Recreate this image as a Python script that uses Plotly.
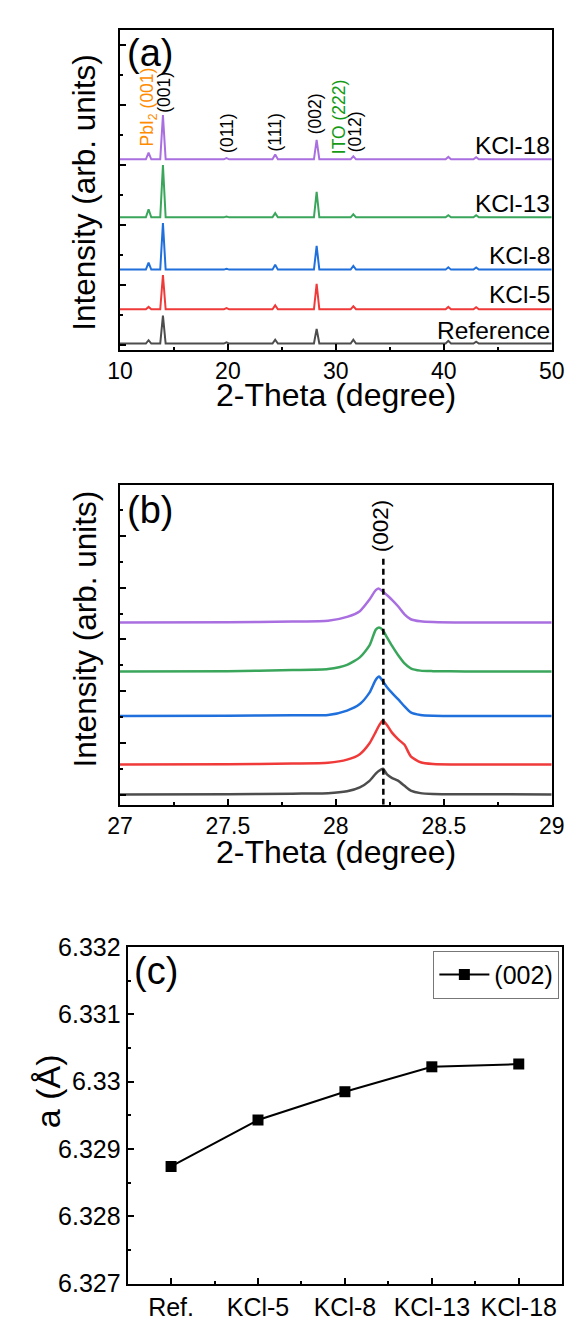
import plotly.graph_objects as go

W, H = 580, 1329
FONT = "Arial, 'Liberation Sans', sans-serif"

# ---------------- (a) XRD patterns, 10-50 degrees ----------------
samples = ["Reference", "KCl-5", "KCl-8", "KCl-13", "KCl-18"]
colors = ["#4d4d4d", "#f03a3a", "#1f6fdc", "#3aa65c", "#a96fe0"]

# peak positions (2-theta) and peak heights above each baseline
peak_pos = [12.65, 13.98, 19.87, 24.38, 28.22, 31.62, 34.8, 40.42, 43.0]
peaks_ref = [0.11, 0.93, 0.04, 0.13, 0.49, 0.13, 0.02, 0.09, 0.06]
peaks_kcl5 = [0.08, 1.14, 0.04, 0.13, 0.85, 0.10, 0.02, 0.08, 0.07]
peaks_kcl8 = [0.23, 1.55, 0.03, 0.16, 0.79, 0.12, 0.02, 0.08, 0.07]
peaks_kcl13 = [0.27, 1.74, 0.03, 0.14, 0.85, 0.10, 0.02, 0.07, 0.07]
peaks_kcl18 = [0.22, 1.47, 0.04, 0.16, 0.65, 0.10, 0.02, 0.08, 0.07]
offsets_a = [0.06, 1.20, 2.52, 4.26, 6.19]
half_base = 0.25

# ---------------- (b) (002) region, 27-29 degrees ----------------
theta_b = [27.0, 27.5, 27.8, 27.964, 28.052, 28.111, 28.156, 28.185, 28.200,
           28.218, 28.237, 28.259, 28.288, 28.318, 28.347, 28.392, 28.45, 28.6, 29.0]
zoom_ref = [0.03, 0.04, 0.06, 0.075, 0.15, 0.30, 0.55, 0.83, 0.94,
            1.02, 0.80, 0.67, 0.56, 0.36, 0.18, 0.08, 0.05, 0.04, 0.03]
zoom_kcl5 = [1.18, 1.19, 1.22, 1.25, 1.37, 1.58, 2.00, 2.44, 2.68,
             2.88, 2.70, 2.42, 2.16, 1.94, 1.50, 1.27, 1.20, 1.18, 1.18]
zoom_kcl8 = [3.05, 3.06, 3.08, 3.09, 3.26, 3.51, 3.95, 4.45, 4.57,
             4.39, 4.16, 3.95, 3.70, 3.42, 3.19, 3.09, 3.06, 3.05, 3.05]
zoom_kcl13 = [4.77, 4.78, 4.82, 4.86, 5.02, 5.31, 5.77, 6.38, 6.46,
              6.35, 6.08, 5.77, 5.40, 5.08, 4.89, 4.80, 4.78, 4.77, 4.77]
zoom_kcl18 = [6.65, 6.66, 6.69, 6.72, 6.87, 7.09, 7.54, 7.90, 7.96,
              7.85, 7.71, 7.54, 7.28, 6.97, 6.78, 6.70, 6.67, 6.65, 6.65]
ref_002 = 28.22

# ---------------- (c) lattice parameter ----------------
categories = ["Ref.", "KCl-5", "KCl-8", "KCl-13", "KCl-18"]
lattice_a = [6.32874, 6.32943, 6.32985, 6.33022, 6.33026]


def px(x):
    return x / W


def py(y):
    return 1 - y / H


fig = go.Figure()

# (a) stacked full patterns
for name, col, pk, off in zip(samples, colors,
                              [peaks_ref, peaks_kcl5, peaks_kcl8, peaks_kcl13, peaks_kcl18],
                              offsets_a):
    xs, ys = [10.0], [off]
    for p, h in zip(peak_pos, pk):
        xs += [p - half_base, p, p + half_base]
        ys += [off, off + h, off]
    xs.append(50.0)
    ys.append(off)
    fig.add_trace(go.Scatter(x=xs, y=ys, mode="lines", line=dict(color=col, width=2),
                             xaxis="x", yaxis="y", showlegend=False, name=name))

# (b) zoom on (002)
for name, col, vals in zip(samples, colors,
                           [zoom_ref, zoom_kcl5, zoom_kcl8, zoom_kcl13, zoom_kcl18]):
    fig.add_trace(go.Scatter(x=theta_b, y=vals, mode="lines",
                             line=dict(color=col, width=2.5, shape="spline", smoothing=0.6),
                             xaxis="x2", yaxis="y2", showlegend=False, name=name))

# (c) lattice constant
fig.add_trace(go.Scatter(x=list(range(len(categories))), y=lattice_a, mode="lines+markers",
                         line=dict(color="black", width=2),
                         marker=dict(symbol="square", size=11, color="black"),
                         xaxis="x3", yaxis="y3", name="(002)", showlegend=True))

tick_common = dict(ticks="inside", ticklen=6, tickwidth=1.5, tickcolor="black",
                   showline=True, linewidth=2, linecolor="black", mirror=True,
                   showgrid=False, zeroline=False,
                   tickfont=dict(family=FONT, size=23, color="black"))
minor_common = dict(ticks="inside", ticklen=3, tickwidth=1.5, tickcolor="black", showgrid=False)
big_ticks = {**tick_common, "tickfont": dict(family=FONT, size=25, color="black")}

fig.update_layout(
    width=W, height=H, margin=dict(l=0, r=0, t=0, b=0),
    paper_bgcolor="white", plot_bgcolor="white",
    font=dict(family=FONT, color="black"),
    xaxis=dict(domain=[px(112), px(564)], anchor="y", range=[10, 50], tick0=10, dtick=10,
               minor=dict(dtick=5, tick0=10, **minor_common), **tick_common),
    yaxis=dict(domain=[py(343), py(16)], anchor="x", range=[-0.147, 10.505], tick0=0, dtick=2,
               showticklabels=False, minor=dict(dtick=1, tick0=0, **minor_common), **tick_common),
    xaxis2=dict(domain=[px(112), px(564)], anchor="y2", range=[27, 29], tick0=27, dtick=0.5,
                minor=dict(dtick=0.25, tick0=27, **minor_common), **tick_common),
    yaxis2=dict(domain=[py(807.7), py(480.7)], anchor="x2", range=[-0.366, 11.97], tick0=0, dtick=2,
                showticklabels=False, minor=dict(dtick=1, tick0=0, **minor_common), **tick_common),
    xaxis3=dict(domain=[px(120), px(575)], anchor="y3", range=[-0.5, 4.5],
                tickmode="array", tickvals=list(range(len(categories))), ticktext=categories,
                minor=dict(tick0=0.5, dtick=1, **minor_common), **big_ticks),
    yaxis3=dict(domain=[py(1297), py(953)], anchor="x3", range=[6.327, 6.332], tick0=6.327, dtick=0.001,
                minor=dict(tick0=6.327, dtick=0.0005, **minor_common), **big_ticks),
    legend=dict(x=px(572), y=py(957), xanchor="right", yanchor="top",
                bgcolor="white", bordercolor="#777", borderwidth=1,
                font=dict(family=FONT, size=25, color="black"), itemwidth=50),
)

ann = []


def text(x, y, s, size, color="black", angle=0, xanchor="center", xref="paper", yref="paper"):
    ann.append(dict(x=x, y=y, xref=xref, yref=yref, text=s, showarrow=False, textangle=angle,
                    xanchor=xanchor, yanchor="middle", borderpad=0,
                    font=dict(family=FONT, size=size, color=color)))


# panel tags
text(px(143), py(40), "(a)", 38)
text(px(143), py(507), "(b)", 38)
text(px(150), py(978), "(c)", 38)

# axis titles
text(px(338), py(389), "2-Theta (degree)", 32)
text(px(75), py(182), "Intensity (arb. units)", 31.5, angle=-90)
text(px(338), py(856), "2-Theta (degree)", 32)
text(px(75), py(628), "Intensity (arb. units)", 31.5, angle=-90)
text(px(36), py(1100), "a (Å)", 34, angle=-90)

# sample names on (a)
label_y_a = [0.51, 1.68, 2.98, 4.71, 6.66]
for name, ly in zip(samples, label_y_a):
    text(49.97, ly, name, 24.5, xanchor="right", xref="x", yref="y")

# reflection labels on (a)
text(12.63, 7.93, "PbI<sub>2</sub> (001)", 17.5, color="#ff8c00", angle=-90, xref="x", yref="y")
text(14.12, 8.42, "(001)", 17.5, angle=-90, xref="x", yref="y")
text(19.85, 7.08, "(011)", 17.5, angle=-90, xref="x", yref="y")
text(24.35, 7.08, "(111)", 17.5, angle=-90, xref="x", yref="y")
text(28.07, 7.69, "(002)", 17.5, angle=-90, xref="x", yref="y")
text(30.25, 7.61, "ITO (222)", 17.5, color="#149a14", angle=-90, xref="x", yref="y")
text(31.8, 7.10, "(012)", 17.5, angle=-90, xref="x", yref="y")

# (002) reference position on (b)
text(28.207, 10.38, "(002)", 22.5, angle=-90, xref="x2", yref="y2")

fig.update_layout(annotations=ann)
fig.add_shape(type="line", xref="x2", yref="y2", x0=ref_002, x1=ref_002, y0=-0.366, y1=9.23,
              line=dict(color="black", width=2.5, dash="6px,4px"))

fig.write_html("out.html")
